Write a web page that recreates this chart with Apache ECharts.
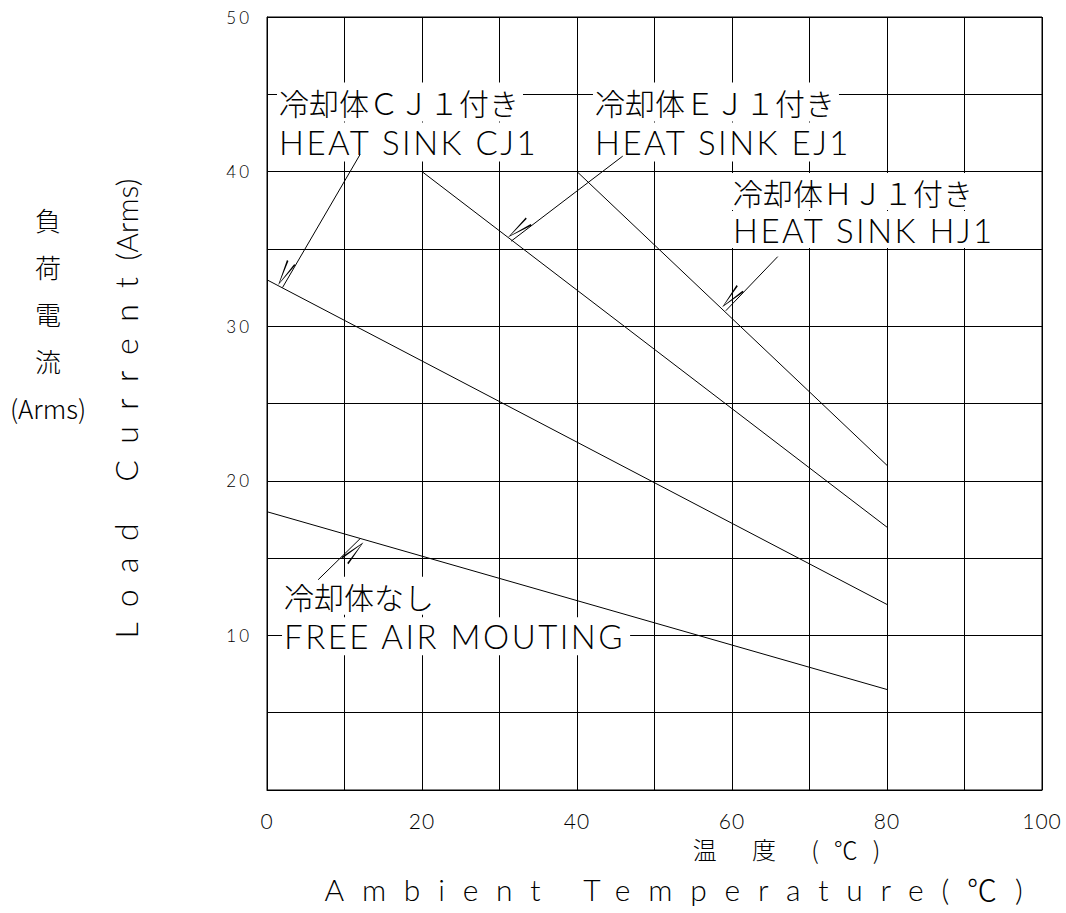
<!DOCTYPE html>
<html>
<head>
<meta charset="utf-8">
<style>
html,body{margin:0;padding:0;background:#fff;}
#chart{width:1066px;height:913px;}
</style>
<script src="https://cdn.jsdelivr.net/npm/echarts@6/dist/echarts.min.js"></script>
</head>
<body>
<div id="chart"></div>
<script>
// ---------- data ----------
const freeAir     = [[0, 18], [80, 6.5]];
const heatSinkCJ1 = [[0, 33], [80, 12]];
const heatSinkEJ1 = [[20, 40], [80, 17]];
const heatSinkHJ1 = [[40, 40], [80, 21]];

const xTickLabels = ['0', '20', '40', '60', '80', '100'];
const yTickLabels = ['10', '20', '30', '40', '50'];

const noteFree = ['冷却体なし', 'FREE AIR MOUTING'];
const noteCJ1  = ['冷却体ＣＪ１付き', 'HEAT SINK CJ1'];
const noteEJ1  = ['冷却体ＥＪ１付き', 'HEAT SINK EJ1'];
const noteHJ1  = ['冷却体ＨＪ１付き', 'HEAT SINK HJ1'];

const yTitleJa = '負\n荷\n電\n流\n(Arms)';
const yTitleEn = ['Load Current', '(Arms)'];
const xTitleJa = '温 度 (℃)';
const xTitleEn = 'Ambient Temperature(℃)';

// ---------- letter spacing (tracking) per text group ----------
const SPACING = {
  spAnnJ: 0, spAnnL: 2.5, spTitX: 17.8, spTitYa: 16.5, spTitYb: 0,
  spTickY: 3, spTickX: 1, spJpX: 15, spJpY: 0
};
function spacingFor(font) {
  if (!font) return 0;
  for (const k in SPACING) { if (font.indexOf(k) >= 0) return SPACING[k]; }
  return 0;
}
(function () {
  let css = '';
  for (const k in SPACING) css += 'text[style*="' + k + '"]{letter-spacing:' + SPACING[k] + 'px;}';
  const st = document.createElement('style');
  st.textContent = css;
  document.head.appendChild(st);
})();
const mctx = document.createElement('canvas').getContext('2d');
echarts.setPlatformAPI({
  measureText: function (text, font) {
    mctx.font = font || '12px sans-serif';
    try { mctx.letterSpacing = spacingFor(font) + 'px'; } catch (e) {}
    return { width: mctx.measureText(text).width };
  }
});

const LATIN = 'Lato, Roboto, Noto Sans CJK JP';
const CJK = 'Noto Sans CJK JP, Roboto';
const jpStyle = { fontFamily: CJK + ', spAnnJ', fontSize: 30, fontWeight: 300 };
const enStyle = { fontFamily: LATIN + ', spAnnL', fontSize: 33, fontWeight: 300 };

function noteItem(text, coord, style, lineHeight, padding) {
  return { name: text, coord: coord, label: Object.assign({ lineHeight: lineHeight, padding: padding }, style) };
}

const ARROW = 'path://M5,0 L0,26 L1.7,26 L5,3 L8.3,26 L10,26 Z';
function arrow(from, to) {
  return {
    silent: true, z: 10, animation: false,
    symbol: ['none', ARROW], symbolSize: [10, 26], symbolOffset: [0, '50%'],
    lineStyle: { color: '#000', width: 1, type: 'solid' },
    itemStyle: { color: '#000' },
    label: { show: false },
    emphasis: { disabled: true },
    data: [[{ coord: from }, { coord: to }]]
  };
}
function notes(items) {
  return {
    silent: true, animation: false,
    symbol: 'circle', symbolSize: 0,
    label: { show: true, position: 'right', distance: 0, color: '#000', backgroundColor: '#fff', formatter: '{b}' },
    data: items
  };
}
function lineSeries(name, data, markPoint, markLine) {
  return {
    name: name, type: 'line', data: data, symbol: 'none', silent: true,
    lineStyle: { color: '#000', width: 1 },
    markPoint: markPoint, markLine: markLine
  };
}

const chart = echarts.init(document.getElementById('chart'), null, { renderer: 'svg' });
chart.setOption({
  animation: false,
  backgroundColor: '#fff',
  grid: {
    left: 267, right: 24, top: 17, bottom: 123,
    outerBoundsMode: 'none', containLabel: false,
    show: true, borderColor: '#000', borderWidth: 1, backgroundColor: 'transparent'
  },
  xAxis: {
    type: 'value', min: 0, max: 100, interval: 10,
    axisLine: { show: true, lineStyle: { color: '#000', width: 1 } },
    axisTick: { show: false },
    splitLine: { show: true, lineStyle: { color: '#000', width: 1 } },
    axisLabel: {
      color: '#000', fontSize: 21, fontWeight: 300, fontFamily: 'Lato, Roboto, spTickX',
      margin: 21, lineHeight: 18,
      formatter: function (v) { return xTickLabels.indexOf(String(v)) >= 0 ? String(v) : ''; }
    },
    name: xTitleEn, nameLocation: 'middle', nameGap: 75,
    nameTextStyle: { color: '#000', fontSize: 30, fontWeight: 300, fontFamily: LATIN + ', spTitX', padding: [0, 0, 0, 56] }
  },
  yAxis: {
    type: 'value', min: 0, max: 50, interval: 5,
    axisLine: { show: true, lineStyle: { color: '#000', width: 1 } },
    axisTick: { show: false },
    splitLine: { show: true, lineStyle: { color: '#000', width: 1 } },
    axisLabel: {
      color: '#000', fontSize: 17, fontWeight: 300, fontFamily: 'Lato, Roboto, spTickY', margin: 15,
      formatter: function (v) { return yTickLabels.indexOf(String(v)) >= 0 ? String(v) : ''; }
    },
    name: '{a|' + yTitleEn[0] + '}{b|' + yTitleEn[1] + '}',
    nameLocation: 'middle', nameRotate: 90, nameGap: 117,
    nameTextStyle: {
      color: '#000',
      rich: {
        a: { color: '#000', fontSize: 32, fontWeight: 300, fontFamily: LATIN + ', spTitYa' },
        b: { color: '#000', fontSize: 30, fontWeight: 300, fontFamily: LATIN + ', spTitYb', padding: [0, 10, 0, 0] }
      }
    }
  },
  graphic: [
    {
      type: 'text', x: 48, y: 196, silent: true,
      style: { text: yTitleJa, fill: '#000', font: '300 26px ' + CJK + ', spJpY', align: 'center', verticalAlign: 'top', lineHeight: 47 }
    },
    {
      type: 'text', x: 794, y: 848, silent: true,
      style: { text: xTitleJa, fill: '#000', font: '300 24px ' + CJK + ', spJpX', align: 'center', verticalAlign: 'middle', lineHeight: 24 }
    }
  ],
  series: [
    lineSeries('FREE AIR', freeAir,
      notes([
        noteItem(noteFree[0], [1.94, 12.56], jpStyle, 34, [2, 4, 2, 2]),
        noteItem(noteFree[1], [1.94, 9.94], enStyle, 34, [2, 4, 2, 2])
      ]),
      arrow([6.6, 13.6], [12.0, 16.25])),
    lineSeries('HEAT SINK CJ1', heatSinkCJ1,
      notes([
        noteItem(noteCJ1[0], [1.29, 44.5], jpStyle, 34, [3, 4, 2, 2]),
        noteItem(noteCJ1[1], [1.29, 41.91], enStyle, 34, [2, 4, 3, 2])
      ]),
      arrow([12.0, 41.1], [2.0, 32.5])),
    lineSeries('HEAT SINK EJ1', heatSinkEJ1,
      notes([
        noteItem(noteEJ1[0], [42.06, 44.5], jpStyle, 34, [3, 4, 2, 2]),
        noteItem(noteEJ1[1], [42.06, 41.91], enStyle, 34, [2, 4, 3, 2])
      ]),
      arrow([45.9, 41.0], [31.5, 35.5])),
    lineSeries('HEAT SINK HJ1', heatSinkHJ1,
      notes([
        noteItem(noteHJ1[0], [59.87, 38.71], jpStyle, 35, [1, 4, 1, 2]),
        noteItem(noteHJ1[1], [59.87, 36.25], enStyle, 35, [1, 4, 1, 2])
      ]),
      arrow([65.9, 34.5], [59.2, 31.0]))
  ]
});
</script>
</body>
</html>
